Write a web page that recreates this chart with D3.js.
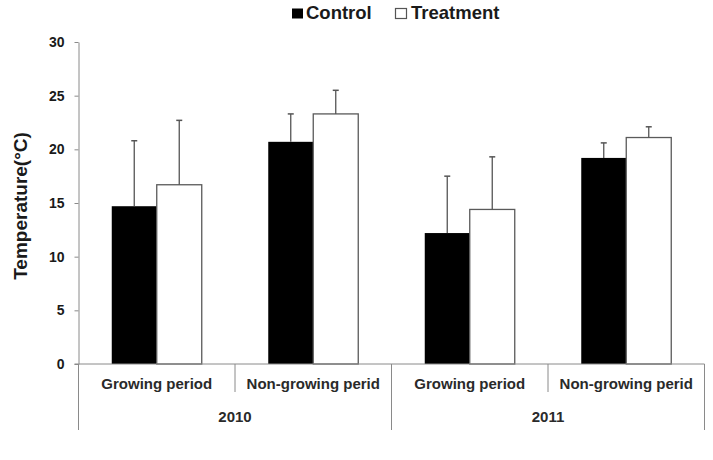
<!DOCTYPE html>
<html>
<head>
<meta charset="utf-8">
<script src="https://cdn.jsdelivr.net/npm/d3@7"></script>
<style>
  html, body { margin: 0; padding: 0; background: #fff; }
  svg { display: block; }
</style>
</head>
<body>
<svg id="chart" width="713" height="460"></svg>
<script>
// ---- Data ----
const periods = ["Growing period", "Non-growing perid", "Growing period", "Non-growing perid"];
const years = ["2010", "2011"];
const seriesNames = ["Control", "Treatment"];
const controlValues = [14.7, 20.7, 12.2, 19.2];
const controlErrors = [6.1, 2.6, 5.3, 1.4];
const treatmentValues = [16.7, 23.3, 14.4, 21.1];
const treatmentErrors = [6.0, 2.2, 4.9, 1.0];
const yTicks = [0, 5, 10, 15, 20, 25, 30];

(function () {
// ---- Layout ----
const svg = d3.select("#chart");
const mLeft = 78.5, mRight = 704.5, mTop = 42, mBottom = 364;
const axisColor = "#8a8a8a";
const textColor = "#1a1a1a";

const catIdx = d3.range(periods.length);
const x0 = d3.scaleBand().domain(catIdx).range([mLeft, mRight]).paddingInner(0).paddingOuter(0);
const x1 = d3.scaleBand().domain(seriesNames).range([0, x0.bandwidth()]).paddingInner(0).paddingOuter(0.739);
const y = d3.scaleLinear().domain([0, 30]).range([mBottom, mTop]);

const rows = catIdx.map(i => ({
  i,
  values: [
    { s: "Control", v: controlValues[i], e: controlErrors[i] },
    { s: "Treatment", v: treatmentValues[i], e: treatmentErrors[i] }
  ]
}));

// ---- Y axis ----
const yAxis = d3.axisLeft(y).tickValues(yTicks).tickSize(4).tickSizeOuter(0).tickPadding(10);
const gy = svg.append("g").attr("transform", `translate(${mLeft},0)`).call(yAxis);
gy.select(".domain").attr("stroke", axisColor).attr("stroke-width", 1);
gy.selectAll(".tick line").attr("stroke", axisColor).attr("stroke-width", 1);
gy.selectAll(".tick text")
  .attr("fill", textColor)
  .style("font-family", "'Liberation Sans', Arial, sans-serif")
  .style("font-size", "14px")
  .style("font-weight", "bold");

// Y axis title
svg.append("text")
  .attr("transform", `translate(27,206) rotate(-90)`)
  .attr("text-anchor", "middle")
  .attr("fill", textColor)
  .style("font-family", "'Liberation Sans', Arial, sans-serif")
  .style("font-size", "19px")
  .style("font-weight", "bold")
  .text("Temperature(°C)");

// ---- Bars ----
const groups = svg.append("g").selectAll("g").data(rows).join("g")
  .attr("transform", d => `translate(${x0(d.i)},0)`);

groups.selectAll("rect").data(d => d.values).join("rect")
  .attr("x", d => x1(d.s))
  .attr("y", d => y(d.v))
  .attr("width", x1.bandwidth())
  .attr("height", d => y(0) - y(d.v))
  .attr("fill", d => d.s === "Control" ? "#000" : "#fff")
  .attr("stroke", d => d.s === "Control" ? "#000" : "#5a5a5a")
  .attr("stroke-width", d => d.s === "Control" ? 0 : 1.3);

// Error bars (upper only)
groups.selectAll("line.err").data(d => d.values).join("line")
  .attr("class", "err")
  .attr("x1", d => x1(d.s) + x1.bandwidth() / 2)
  .attr("x2", d => x1(d.s) + x1.bandwidth() / 2)
  .attr("y1", d => y(d.v))
  .attr("y2", d => y(d.v + d.e))
  .attr("stroke", "#555")
  .attr("stroke-width", 1.3);
groups.selectAll("line.cap").data(d => d.values).join("line")
  .attr("class", "cap")
  .attr("x1", d => x1(d.s) + x1.bandwidth() / 2 - 3)
  .attr("x2", d => x1(d.s) + x1.bandwidth() / 2 + 3)
  .attr("y1", d => y(d.v + d.e))
  .attr("y2", d => y(d.v + d.e))
  .attr("stroke", "#555")
  .attr("stroke-width", 1.5);

// ---- X axis (two-level) ----
const xa = svg.append("g");
xa.append("line")
  .attr("x1", mLeft - 4).attr("x2", mRight)
  .attr("y1", y(0)).attr("y2", y(0))
  .attr("stroke", axisColor).attr("stroke-width", 1);

const boundaries = d3.range(periods.length + 1);
xa.selectAll("line.div").data(boundaries).join("line")
  .attr("class", "div")
  .attr("x1", d => mLeft + d * x0.step())
  .attr("x2", d => mLeft + d * x0.step())
  .attr("y1", y(0))
  .attr("y2", d => d % 2 === 0 ? 430 : 392)
  .attr("stroke", axisColor).attr("stroke-width", 1);

xa.selectAll("text.cat").data(catIdx).join("text")
  .attr("class", "cat")
  .attr("x", d => x0(d) + x0.bandwidth() / 2)
  .attr("y", 389)
  .attr("text-anchor", "middle")
  .attr("fill", "#2a2a2a")
  .style("font-family", "'Liberation Sans', Arial, sans-serif")
  .style("font-size", "15px")
  .style("font-weight", "bold")
  .text(d => periods[d]);

xa.selectAll("text.year").data(years).join("text")
  .attr("class", "year")
  .attr("x", (d, i) => mLeft + (i * 2 + 1) * x0.step())
  .attr("y", 422)
  .attr("text-anchor", "middle")
  .attr("fill", "#2a2a2a")
  .style("font-family", "'Liberation Sans', Arial, sans-serif")
  .style("font-size", "15px")
  .style("font-weight", "bold")
  .text(d => d);

// ---- Legend ----
const legendX = [292, 395];
const leg = svg.append("g").selectAll("g").data(seriesNames).join("g")
  .attr("transform", (d, i) => `translate(${legendX[i]},0)`);
leg.append("rect")
  .attr("x", d => d === "Control" ? 0 : 0.5)
  .attr("y", 8.5)
  .attr("width", 11)
  .attr("height", 10)
  .attr("fill", d => d === "Control" ? "#000" : "#fff")
  .attr("stroke", d => d === "Control" ? "none" : "#555")
  .attr("stroke-width", 1.2);
leg.append("text")
  .attr("x", d => d === "Control" ? 14 : 16)
  .attr("y", 19)
  .attr("fill", textColor)
  .style("font-family", "'Liberation Sans', Arial, sans-serif")
  .style("font-size", "18.5px")
  .style("font-weight", "bold")
  .text(d => d);
})();
</script>
</body>
</html>
